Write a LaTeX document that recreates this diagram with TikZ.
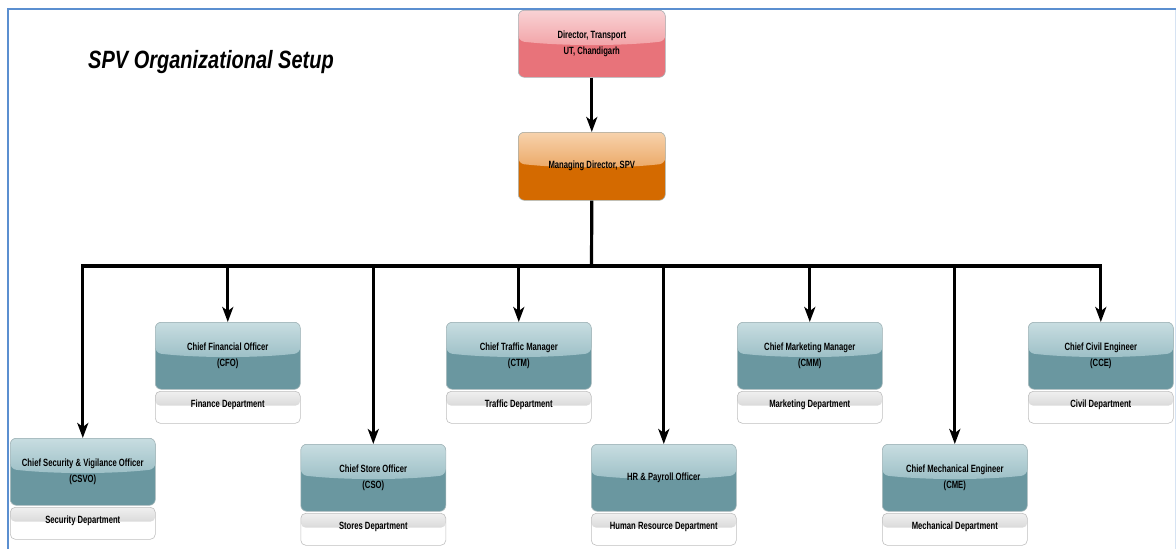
\documentclass[tikz,border=0pt]{standalone}
\usepackage{fontspec}
\setmainfont{Liberation Sans}[FakeStretch=0.8]
\newfontfamily\narrowfont{Liberation Sans}[FakeStretch=0.73]
\usetikzlibrary{arrows.meta,calc}
\definecolor{frameblue}{HTML}{5B8FD0}
\definecolor{pinkbase}{HTML}{E8737A}
\definecolor{pinktop}{HTML}{F9D2D4}
\definecolor{pinkmid}{HTML}{F2A3A7}
\definecolor{orgbase}{HTML}{D46A00}
\definecolor{orgtop}{HTML}{F7D2AC}
\definecolor{orgmid}{HTML}{EBA866}
\definecolor{tealbase}{HTML}{6A97A0}
\definecolor{tealtop}{HTML}{C8DDE1}
\definecolor{tealmid}{HTML}{9CBFC6}
\definecolor{boxline}{HTML}{A9B9BC}
\newcommand\boxfont{\narrowfont\fontsize{10.5}{15.5}\selectfont\bfseries}
\tikzset{
  frame/.style={draw=frameblue, line width=2pt},
  faintframe/.style={draw=frameblue!25, line width=1pt},
  titlestyle/.style={font=\fontsize{25}{30}\selectfont\bfseries\itshape, inner sep=0pt},
  box/.style={rounded corners=6pt, draw=boxline, line width=0.6pt, inner sep=2pt,
    align=center, font=\boxfont, text=black},
  gloss/.style n args={3}{fill=#1, path picture={
    \coordinate (gnw) at (path picture bounding box.north west);
    \coordinate (gne) at (path picture bounding box.north east);
    \coordinate (gpw) at ($(path picture bounding box.north west)!0.46!(path picture bounding box.south west)$);
    \coordinate (gpe) at ($(path picture bounding box.north east)!0.46!(path picture bounding box.south east)$);
    \fill[top color=#2, bottom color=#3] (gnw) -- (gne) -- (gpe)
      .. controls ($(gpe)!0.3!(gpw)+(0pt,-5pt)$) and ($(gpe)!0.7!(gpw)+(0pt,-5pt)$) .. (gpw) -- cycle;
  }},
  officer/.style={box, gloss={tealbase}{tealtop}{tealmid}, minimum width=145pt, minimum height=67pt, anchor=north west},
  dept/.style={rounded corners=5pt, draw=gray!50, line width=0.6pt, fill=white,
    minimum width=145pt, minimum height=32pt, inner sep=0pt, text height=7pt, text depth=6pt,
    font=\boxfont, anchor=north west, path picture={
    \fill[top color=gray!12, bottom color=gray!50]
      (path picture bounding box.north west) -- (path picture bounding box.north east)
      -- ($(path picture bounding box.north east)!0.45!(path picture bounding box.south east)$)
      -- ($(path picture bounding box.north west)!0.45!(path picture bounding box.south west)$) -- cycle;
  }},
  wire/.style={line width=3.2pt, line join=miter, draw=black},
  arr/.style={wire, -{Stealth[length=15pt, width=11pt, inset=4pt]}},
}
\begin{document}
\begin{tikzpicture}[x=1pt,y=-1pt]
\useasboundingbox (0,0) rectangle (1176,549);
\draw[faintframe] (1175,9) -- (1175,549);
\draw[frame] (8,549) -- (8,9) -- (1176,9);

\node[titlestyle, anchor=base west] (title) at (88,68) {SPV Organizational Setup};

\node[box, gloss={pinkbase}{pinktop}{pinkmid}, anchor=north west, minimum width=147pt, minimum height=67pt] (dir) at (518,10) {Director, Transport\\UT, Chandigarh};
\node[box, gloss={orgbase}{orgtop}{orgmid}, anchor=north west, minimum width=147pt, minimum height=68pt] (md) at (518,132) {Managing Director, SPV};
\coordinate (bus) at (591.5,266);

% upper row
\node[officer] (cfo) at (155,322) {Chief Financial Officer\\(CFO)};
\node[dept] (cfod) at (155,391) {Finance Department};
\node[officer] (ctm) at (446,322) {Chief Traffic Manager\\(CTM)};
\node[dept] (ctmd) at (446,391) {Traffic Department};
\node[officer] (cmm) at (737,322) {Chief Marketing Manager\\(CMM)};
\node[dept] (cmmd) at (737,391) {Marketing Department};
\node[officer] (cce) at (1028,322) {Chief Civil Engineer\\(CCE)};
\node[dept] (cced) at (1028,391) {Civil Department};

% lower row
\node[officer] (csvo) at (10,438) {Chief Security \& Vigilance Officer\\(CSVO)};
\node[dept] (csvod) at (10,507) {Security Department};
\node[officer] (cso) at (300.5,444) {Chief Store Officer\\(CSO)};
\node[dept] (csod) at (300.5,513) {Stores Department};
\node[officer] (hr) at (591,444) {HR \& Payroll Officer};
\node[dept] (hrd) at (591,513) {Human Resource Department};
\node[officer] (cme) at (882,444) {Chief Mechanical Engineer\\(CME)};
\node[dept] (cmed) at (882,513) {Mechanical Department};

% connectors
\draw[arr] (dir.south) -- (md.north);
\draw[wire] (md.south) -- (bus);
\foreach \n in {csvo,cfo,cso,ctm,hr,cmm,cme,cce} {
  \draw[arr] (bus) -| (\n.north);
}
\end{tikzpicture}
\end{document}
